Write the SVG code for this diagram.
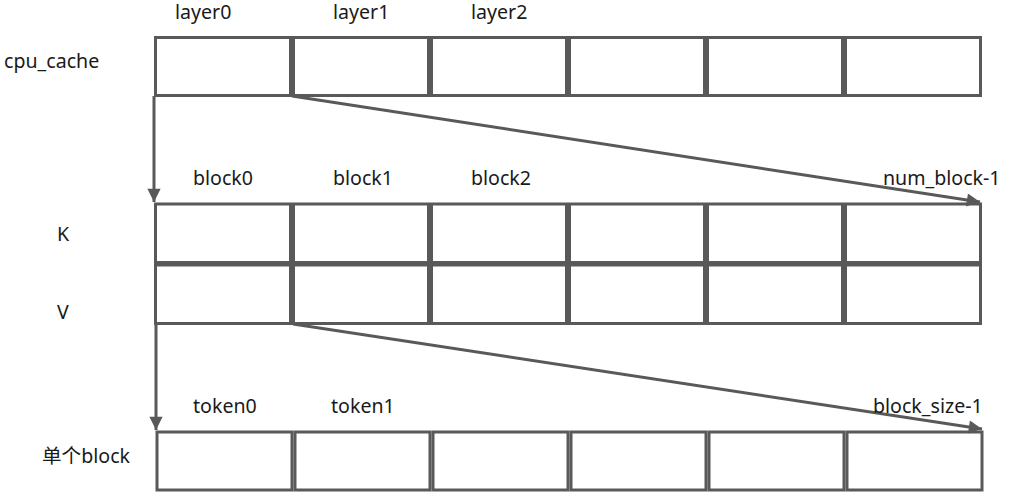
<svg xmlns="http://www.w3.org/2000/svg" width="1010" height="500" viewBox="0 0 1010 500">
<style>
.cell{fill:#ffffff;stroke:#595959;stroke-width:3}
.lbl{font-family:"Noto Sans","Noto Sans CJK SC",sans-serif;font-size:19.6px;fill:#1a1a1a}
.conn{stroke:#595959;stroke-width:3;fill:none}
</style>
<defs>
<marker id="ah" viewBox="0 0 10 10" refX="10" refY="5" markerWidth="5.2" markerHeight="4.4" markerUnits="strokeWidth" orient="auto">
<path d="M0,0 L10,5 L0,10 z" fill="#595959"/>
</marker>
</defs>
<rect width="1010" height="500" fill="#ffffff"/>
<g id="row-cpu_cache">
<rect class="cell" x="155.5" y="37.5" width="135" height="58"/>
<rect class="cell" x="293.5" y="37.5" width="135" height="58"/>
<rect class="cell" x="431.5" y="37.5" width="135" height="58"/>
<rect class="cell" x="569.5" y="37.5" width="135" height="58"/>
<rect class="cell" x="707.5" y="37.5" width="135" height="58"/>
<rect class="cell" x="845.5" y="37.5" width="135" height="58"/>
</g>
<g id="row-K">
<rect class="cell" x="155.5" y="204" width="135" height="58.5"/>
<rect class="cell" x="293.5" y="204" width="135" height="58.5"/>
<rect class="cell" x="431.5" y="204" width="135" height="58.5"/>
<rect class="cell" x="569.5" y="204" width="135" height="58.5"/>
<rect class="cell" x="707.5" y="204" width="135" height="58.5"/>
<rect class="cell" x="845.5" y="204" width="135" height="58.5"/>
</g>
<g id="row-V">
<rect class="cell" x="155.5" y="265" width="135" height="58.5"/>
<rect class="cell" x="293.5" y="265" width="135" height="58.5"/>
<rect class="cell" x="431.5" y="265" width="135" height="58.5"/>
<rect class="cell" x="569.5" y="265" width="135" height="58.5"/>
<rect class="cell" x="707.5" y="265" width="135" height="58.5"/>
<rect class="cell" x="845.5" y="265" width="135" height="58.5"/>
</g>
<g id="row-block">
<rect class="cell" x="157" y="432" width="135" height="58"/>
<rect class="cell" x="295" y="432" width="135" height="58"/>
<rect class="cell" x="433" y="432" width="135" height="58"/>
<rect class="cell" x="571" y="432" width="135" height="58"/>
<rect class="cell" x="709" y="432" width="135" height="58"/>
<rect class="cell" x="847" y="432" width="135" height="58"/>
</g>
<g id="connectors">
<line class="conn" x1="154" y1="96" x2="154" y2="202" marker-end="url(#ah)"/>
<line class="conn" x1="292" y1="96" x2="980" y2="202" marker-end="url(#ah)"/>
<line class="conn" x1="156" y1="324" x2="156" y2="430" marker-end="url(#ah)"/>
<line class="conn" x1="293" y1="324" x2="982" y2="429" marker-end="url(#ah)"/>
</g>
<g id="labels">
<text class="lbl" x="175" y="19">layer0</text>
<text class="lbl" x="333" y="19">layer1</text>
<text class="lbl" x="471" y="19">layer2</text>
<text class="lbl" x="4" y="68">cpu_cache</text>
<text class="lbl" x="193" y="185">block0</text>
<text class="lbl" x="333" y="185">block1</text>
<text class="lbl" x="471" y="185">block2</text>
<text class="lbl" x="883" y="185">num_block-1</text>
<text class="lbl" x="57" y="241">K</text>
<text class="lbl" x="57" y="319">V</text>
<text class="lbl" x="193" y="413">token0</text>
<text class="lbl" x="331" y="413">token1</text>
<text class="lbl" x="873" y="413">block_size-1</text>
<text class="lbl" x="42" y="463">单个block</text>
</g>
</svg>
